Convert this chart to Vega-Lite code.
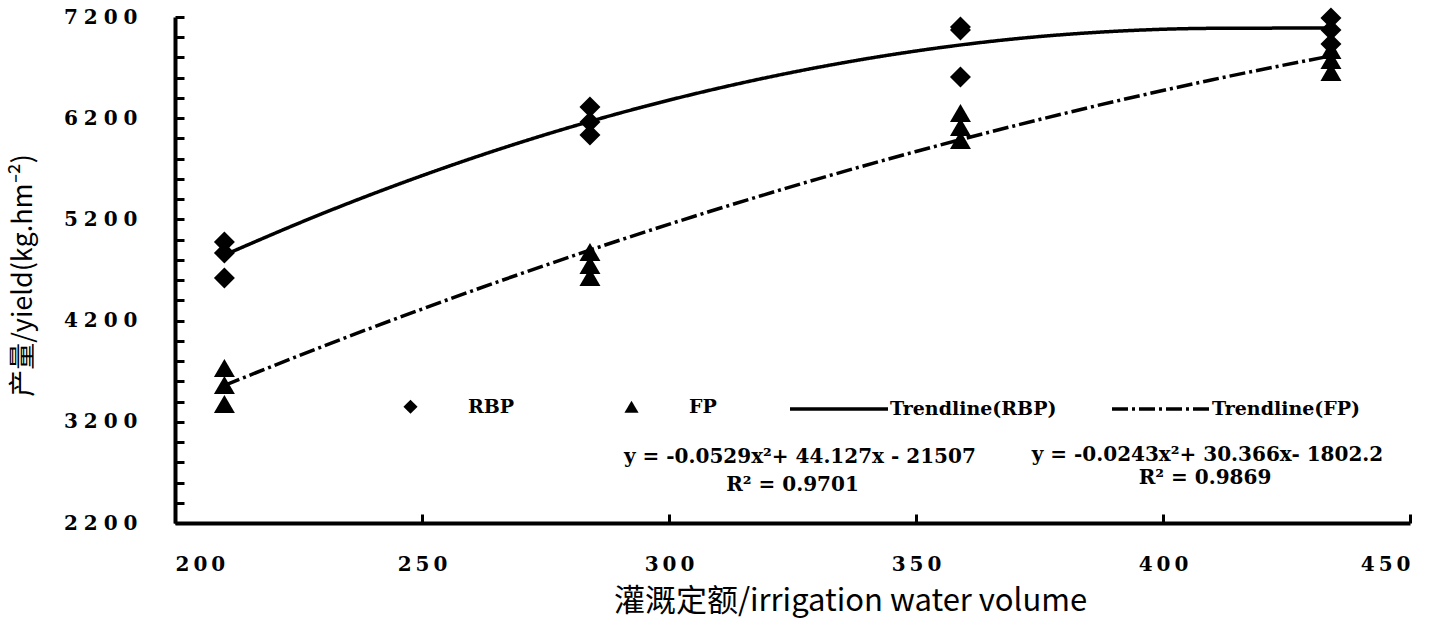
{
  "$schema": "https://vega.github.io/schema/vega-lite/v6.json",
  "width": 1235,
  "height": 506,
  "autosize": {"type": "none"},
  "padding": {"left": 175, "top": 17, "right": 31, "bottom": 96},
  "background": "white",
  "config": {
    "view": {"stroke": null},
    "axis": {
      "domainColor": "black",
      "domainWidth": 4,
      "tickColor": "black",
      "tickWidth": 3,
      "tickSize": -9,
      "grid": false,
      "labelFont": "DejaVu Serif",
      "labelFontWeight": "bold",
      "labelFontSize": 20,
      "labelColor": "black",
      "titleColor": "black",
      "titleFont": "Noto Sans CJK SC",
      "titleFontWeight": "normal"
    }
  },
  "datasets": {
    "points": [
      {"x": 210, "yield": 4977, "series": "RBP"},
      {"x": 210, "yield": 4868, "series": "RBP"},
      {"x": 210, "yield": 4621, "series": "RBP"},
      {"x": 284, "yield": 6311, "series": "RBP"},
      {"x": 284, "yield": 6162, "series": "RBP"},
      {"x": 284, "yield": 6034, "series": "RBP"},
      {"x": 359, "yield": 7101, "series": "RBP"},
      {"x": 359, "yield": 7072, "series": "RBP"},
      {"x": 359, "yield": 6607, "series": "RBP"},
      {"x": 434, "yield": 7190, "series": "RBP"},
      {"x": 434, "yield": 7072, "series": "RBP"},
      {"x": 434, "yield": 6933, "series": "RBP"},
      {"x": 210, "yield": 3732, "series": "FP"},
      {"x": 210, "yield": 3564, "series": "FP"},
      {"x": 210, "yield": 3376, "series": "FP"},
      {"x": 284, "yield": 4878, "series": "FP"},
      {"x": 284, "yield": 4749, "series": "FP"},
      {"x": 284, "yield": 4631, "series": "FP"},
      {"x": 359, "yield": 6251, "series": "FP"},
      {"x": 359, "yield": 6113, "series": "FP"},
      {"x": 359, "yield": 5985, "series": "FP"},
      {"x": 434, "yield": 6874, "series": "FP"},
      {"x": 434, "yield": 6775, "series": "FP"},
      {"x": 434, "yield": 6657, "series": "FP"}
    ],
    "curves": [
      {"x": 210, "yield": 4848, "trend": "Trendline(RBP)"},
      {"x": 230, "yield": 5261, "trend": "Trendline(RBP)"},
      {"x": 250, "yield": 5632, "trend": "Trendline(RBP)"},
      {"x": 270, "yield": 5962, "trend": "Trendline(RBP)"},
      {"x": 290, "yield": 6250, "trend": "Trendline(RBP)"},
      {"x": 310, "yield": 6496, "trend": "Trendline(RBP)"},
      {"x": 330, "yield": 6701, "trend": "Trendline(RBP)"},
      {"x": 350, "yield": 6864, "trend": "Trendline(RBP)"},
      {"x": 370, "yield": 6984, "trend": "Trendline(RBP)"},
      {"x": 390, "yield": 7058, "trend": "Trendline(RBP)"},
      {"x": 410, "yield": 7088, "trend": "Trendline(RBP)"},
      {"x": 434, "yield": 7091, "trend": "Trendline(RBP)"},
      {"x": 210, "yield": 3560, "trend": "Trendline(FP)"},
      {"x": 230, "yield": 3947, "trend": "Trendline(FP)"},
      {"x": 250, "yield": 4314, "trend": "Trendline(FP)"},
      {"x": 270, "yield": 4663, "trend": "Trendline(FP)"},
      {"x": 290, "yield": 4994, "trend": "Trendline(FP)"},
      {"x": 310, "yield": 5305, "trend": "Trendline(FP)"},
      {"x": 330, "yield": 5598, "trend": "Trendline(FP)"},
      {"x": 350, "yield": 5871, "trend": "Trendline(FP)"},
      {"x": 370, "yield": 6126, "trend": "Trendline(FP)"},
      {"x": 390, "yield": 6363, "trend": "Trendline(FP)"},
      {"x": 410, "yield": 6580, "trend": "Trendline(FP)"},
      {"x": 434, "yield": 6816, "trend": "Trendline(FP)"}
    ],
    "notes": [
      {"line": "y = -0.0529x²+ 44.127x - 21507", "trend": "RBP", "row": 1},
      {"line": "R² = 0.9701", "trend": "RBP", "row": 2},
      {"line": "y = -0.0243x²+ 30.366x- 1802.2", "trend": "FP", "row": 1},
      {"line": "R² = 0.9869", "trend": "FP", "row": 2}
    ]
  },
  "layer": [
    {
      "data": {"name": "curves"},
      "mark": {"type": "line", "color": "black", "strokeWidth": 3.5, "interpolate": "monotone"},
      "encoding": {
        "x": {
          "field": "x",
          "type": "quantitative",
          "scale": {"domain": [200, 450], "nice": false, "zero": false},
          "axis": {"title": "灌溉定额/irrigation water volume", "values": [200, 250, 300, 350, 400, 450], "format": "d", "labelExpr": "join(split(datum.label, ''), '\u2009')", "labelPadding": 40, "titleFontSize": 31, "titleX": 675, "titleY": 78, "titleBaseline": "middle", "titleAlign": "center"}
        },
        "y": {
          "field": "yield",
          "type": "quantitative",
          "scale": {"domain": [2200, 7200], "nice": false, "zero": false},
          "axis": {"title": "产量/yield(kg.hm⁻²)", "values": [2200, 2400, 2600, 2800, 3000, 3200, 3400, 3600, 3800, 4000, 4200, 4400, 4600, 4800, 5000, 5200, 5400, 5600, 5800, 6000, 6200, 6400, 6600, 6800, 7000, 7200], "format": "d", "labelExpr": "(datum.value - 2200) % 1000 == 0 ? join(split(datum.label, ''), '\u2009\u200a') : ''", "labelPadding": 47, "titleFontSize": 27, "titleAngle": -90, "titleX": -152, "titleY": 258, "titleBaseline": "middle", "titleAlign": "center"}
        },
        "strokeDash": {
          "field": "trend",
          "type": "nominal",
          "scale": {"domain": ["Trendline(RBP)", "Trendline(FP)"], "range": [[1, 0], [16, 4, 3, 4]]},
          "legend": {
            "title": null,
            "orient": "none",
            "legendX": 613,
            "legendY": 341,
            "direction": "horizontal",
            "padding": 0,
            "symbolType": "stroke",
            "symbolSize": 9604,
            "symbolStrokeWidth": 3.5,
            "symbolStrokeColor": "black",
            "labelFont": "DejaVu Serif",
            "labelFontWeight": "bold",
            "labelFontSize": 19,
            "labelColor": "black",
            "labelLimit": 400,
            "labelOffset": 0,
            "columnPadding": 48
          }
        }
      }
    },
    {
      "data": {"name": "points"},
      "mark": {"type": "point", "filled": true, "color": "black", "opacity": 1, "size": 440},
      "encoding": {
        "x": {
          "field": "x",
          "type": "quantitative",
          "scale": {"domain": [200, 450], "nice": false, "zero": false},
          "axis": {"title": "灌溉定额/irrigation water volume", "values": [200, 250, 300, 350, 400, 450], "format": "d", "labelExpr": "join(split(datum.label, ''), '\u2009')", "labelPadding": 40, "titleFontSize": 31, "titleX": 675, "titleY": 78, "titleBaseline": "middle", "titleAlign": "center"}
        },
        "y": {
          "field": "yield",
          "type": "quantitative",
          "scale": {"domain": [2200, 7200], "nice": false, "zero": false},
          "axis": {"title": "产量/yield(kg.hm⁻²)", "values": [2200, 2400, 2600, 2800, 3000, 3200, 3400, 3600, 3800, 4000, 4200, 4400, 4600, 4800, 5000, 5200, 5400, 5600, 5800, 6000, 6200, 6400, 6600, 6800, 7000, 7200], "format": "d", "labelExpr": "(datum.value - 2200) % 1000 == 0 ? join(split(datum.label, ''), '\u2009\u200a') : ''", "labelPadding": 47, "titleFontSize": 27, "titleAngle": -90, "titleX": -152, "titleY": 258, "titleBaseline": "middle", "titleAlign": "center"}
        },
        "shape": {
          "field": "series",
          "type": "nominal",
          "scale": {"domain": ["RBP", "FP"], "range": ["diamond", "triangle-up"]},
          "legend": {
            "title": null,
            "orient": "none",
            "legendX": 226,
            "legendY": 380,
            "direction": "horizontal",
            "padding": 0,
            "symbolSize": 200,
            "symbolFillColor": "black",
            "symbolStrokeColor": "black",
            "symbolOpacity": 1,
            "labelFont": "DejaVu Serif",
            "labelFontWeight": "bold",
            "labelFontSize": 19,
            "labelColor": "black",
            "labelOffset": 48,
            "columnPadding": 106
          }
        }
      }
    },
    {
      "data": {"name": "notes"},
      "transform": [{"filter": "datum.trend == 'RBP' && datum.row == 1"}],
      "mark": {"type": "text", "font": "DejaVu Serif", "fontWeight": "bold", "fontSize": 20, "color": "black", "align": "center", "baseline": "middle"},
      "encoding": {
        "x": {"datum": 326.5, "type": "quantitative", "axis": {"title": "灌溉定额/irrigation water volume", "values": [200, 250, 300, 350, 400, 450], "format": "d", "labelExpr": "join(split(datum.label, ''), '\u2009')", "labelPadding": 40, "titleFontSize": 31, "titleX": 675, "titleY": 78, "titleBaseline": "middle", "titleAlign": "center"}},
        "y": {"datum": 2852, "type": "quantitative", "axis": {"title": "产量/yield(kg.hm⁻²)", "values": [2200, 2400, 2600, 2800, 3000, 3200, 3400, 3600, 3800, 4000, 4200, 4400, 4600, 4800, 5000, 5200, 5400, 5600, 5800, 6000, 6200, 6400, 6600, 6800, 7000, 7200], "format": "d", "labelExpr": "(datum.value - 2200) % 1000 == 0 ? join(split(datum.label, ''), '\u2009\u200a') : ''", "labelPadding": 47, "titleFontSize": 27, "titleAngle": -90, "titleX": -152, "titleY": 258, "titleBaseline": "middle", "titleAlign": "center"}},
        "text": {"field": "line"}
      }
    },
    {
      "data": {"name": "notes"},
      "transform": [{"filter": "datum.trend == 'RBP' && datum.row == 2"}],
      "mark": {"type": "text", "font": "DejaVu Serif", "fontWeight": "bold", "fontSize": 20, "color": "black", "align": "center", "baseline": "middle"},
      "encoding": {
        "x": {"datum": 325, "type": "quantitative", "axis": {"title": "灌溉定额/irrigation water volume", "values": [200, 250, 300, 350, 400, 450], "format": "d", "labelExpr": "join(split(datum.label, ''), '\u2009')", "labelPadding": 40, "titleFontSize": 31, "titleX": 675, "titleY": 78, "titleBaseline": "middle", "titleAlign": "center"}},
        "y": {"datum": 2580, "type": "quantitative", "axis": {"title": "产量/yield(kg.hm⁻²)", "values": [2200, 2400, 2600, 2800, 3000, 3200, 3400, 3600, 3800, 4000, 4200, 4400, 4600, 4800, 5000, 5200, 5400, 5600, 5800, 6000, 6200, 6400, 6600, 6800, 7000, 7200], "format": "d", "labelExpr": "(datum.value - 2200) % 1000 == 0 ? join(split(datum.label, ''), '\u2009\u200a') : ''", "labelPadding": 47, "titleFontSize": 27, "titleAngle": -90, "titleX": -152, "titleY": 258, "titleBaseline": "middle", "titleAlign": "center"}},
        "text": {"field": "line"}
      }
    },
    {
      "data": {"name": "notes"},
      "transform": [{"filter": "datum.trend == 'FP' && datum.row == 1"}],
      "mark": {"type": "text", "font": "DejaVu Serif", "fontWeight": "bold", "fontSize": 20, "color": "black", "align": "center", "baseline": "middle"},
      "encoding": {
        "x": {"datum": 409, "type": "quantitative", "axis": {"title": "灌溉定额/irrigation water volume", "values": [200, 250, 300, 350, 400, 450], "format": "d", "labelExpr": "join(split(datum.label, ''), '\u2009')", "labelPadding": 40, "titleFontSize": 31, "titleX": 675, "titleY": 78, "titleBaseline": "middle", "titleAlign": "center"}},
        "y": {"datum": 2872, "type": "quantitative", "axis": {"title": "产量/yield(kg.hm⁻²)", "values": [2200, 2400, 2600, 2800, 3000, 3200, 3400, 3600, 3800, 4000, 4200, 4400, 4600, 4800, 5000, 5200, 5400, 5600, 5800, 6000, 6200, 6400, 6600, 6800, 7000, 7200], "format": "d", "labelExpr": "(datum.value - 2200) % 1000 == 0 ? join(split(datum.label, ''), '\u2009\u200a') : ''", "labelPadding": 47, "titleFontSize": 27, "titleAngle": -90, "titleX": -152, "titleY": 258, "titleBaseline": "middle", "titleAlign": "center"}},
        "text": {"field": "line"}
      }
    },
    {
      "data": {"name": "notes"},
      "transform": [{"filter": "datum.trend == 'FP' && datum.row == 2"}],
      "mark": {"type": "text", "font": "DejaVu Serif", "fontWeight": "bold", "fontSize": 20, "color": "black", "align": "center", "baseline": "middle"},
      "encoding": {
        "x": {"datum": 408.5, "type": "quantitative", "axis": {"title": "灌溉定额/irrigation water volume", "values": [200, 250, 300, 350, 400, 450], "format": "d", "labelExpr": "join(split(datum.label, ''), '\u2009')", "labelPadding": 40, "titleFontSize": 31, "titleX": 675, "titleY": 78, "titleBaseline": "middle", "titleAlign": "center"}},
        "y": {"datum": 2640, "type": "quantitative", "axis": {"title": "产量/yield(kg.hm⁻²)", "values": [2200, 2400, 2600, 2800, 3000, 3200, 3400, 3600, 3800, 4000, 4200, 4400, 4600, 4800, 5000, 5200, 5400, 5600, 5800, 6000, 6200, 6400, 6600, 6800, 7000, 7200], "format": "d", "labelExpr": "(datum.value - 2200) % 1000 == 0 ? join(split(datum.label, ''), '\u2009\u200a') : ''", "labelPadding": 47, "titleFontSize": 27, "titleAngle": -90, "titleX": -152, "titleY": 258, "titleBaseline": "middle", "titleAlign": "center"}},
        "text": {"field": "line"}
      }
    }
  ]
}
